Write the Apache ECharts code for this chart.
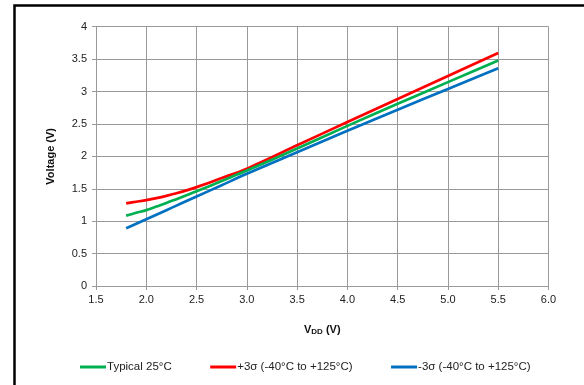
<!DOCTYPE html>
<html>
<head>
<meta charset="utf-8">
<script src="https://cdn.jsdelivr.net/npm/echarts@6/dist/echarts.min.js"></script>
<style>
html,body{margin:0;padding:0;background:#fff;}
#chart{width:584px;height:385px;}
</style>
</head>
<body>
<div id="chart"></div>
<script>
var vdd = [1.8, 1.9, 2.0, 2.1, 2.2, 2.3, 2.4, 2.5, 2.75, 3.0, 3.5, 4.0, 4.5, 5.0, 5.5];
var typical = [1.085, 1.13, 1.17, 1.225, 1.28, 1.34, 1.40, 1.46, 1.62, 1.78, 2.12, 2.47, 2.81, 3.145, 3.48];
var plus3s = [1.275, 1.30, 1.325, 1.355, 1.39, 1.43, 1.475, 1.525, 1.665, 1.81, 2.17, 2.53, 2.885, 3.24, 3.595];
var minus3s = [0.89, 0.96, 1.03, 1.10, 1.17, 1.24, 1.31, 1.38, 1.555, 1.73, 2.065, 2.395, 2.72, 3.04, 3.36];
var seriesNames = ['Typical 25°C', '+3σ (-40°C to +125°C)', '-3σ (-40°C to +125°C)'];
var seriesColors = ['#00b050', '#ff0000', '#0070c0'];

function pairs(ys) { return vdd.map(function (x, i) { return [x, ys[i]]; }); }

var chart = echarts.init(document.getElementById('chart'));
var font = 'Liberation Sans, Arial, sans-serif';
var gridColor = '#999999';
chart.setOption({
  animation: false,
  backgroundColor: '#fff',
  textStyle: { fontFamily: font },
  graphic: [{
    type: 'rect', left: 12, top: 3, silent: true,
    shape: { width: 700, height: 500 },
    style: { fill: 'none', stroke: '#000', lineWidth: 2.5 }
  }],
  grid: { left: 96, right: 35.5, top: 26.7, bottom: 99, containLabel: false },
  legend: {
    top: 356, left: 75,
    itemWidth: 26, itemHeight: 3, itemGap: 38.5,
    icon: 'rect',
    textStyle: { fontSize: 11.5, color: '#222', fontFamily: font, padding: [0, 0, 0, -4] },
    data: seriesNames
  },
  xAxis: {
    type: 'value', min: 1.5, max: 6.0, interval: 0.5,
    name: '{a|V}{b|DD}{a| (V)}',
    nameLocation: 'middle', nameGap: 38,
    nameTextStyle: { rich: {
      a: { fontSize: 11, fontWeight: 'bold', color: '#111', fontFamily: font },
      b: { fontSize: 8, fontWeight: 'bold', color: '#111', fontFamily: font, verticalAlign: 'bottom', padding: [0,0,-1,0] }
    } },
    axisLine: { show: true, lineStyle: { color: gridColor } },
    axisTick: { show: true, length: 4, lineStyle: { color: gridColor } },
    axisLabel: { fontSize: 11, color: '#222', margin: 8, formatter: function (v) { return v.toFixed(1); } },
    splitLine: { show: true, lineStyle: { color: gridColor, width: 1 } }
  },
  yAxis: {
    type: 'value', min: 0, max: 4, interval: 0.5,
    name: 'Voltage (V)', nameLocation: 'middle', nameGap: 40,
    nameTextStyle: { fontSize: 11, fontWeight: 'bold', color: '#111' },
    axisLine: { show: true, lineStyle: { color: gridColor } },
    axisTick: { show: true, length: 4, lineStyle: { color: gridColor } },
    axisLabel: { fontSize: 11, color: '#222', margin: 9 },
    splitLine: { show: true, lineStyle: { color: gridColor, width: 1 } }
  },
  series: [
    { name: seriesNames[0], type: 'line', data: pairs(typical), smooth: 0.3, showSymbol: false, z: 3,
      itemStyle: { color: seriesColors[0] }, lineStyle: { color: seriesColors[0], width: 2.7 } },
    { name: seriesNames[1], type: 'line', data: pairs(plus3s), smooth: 0.3, showSymbol: false, z: 2,
      itemStyle: { color: seriesColors[1] }, lineStyle: { color: seriesColors[1], width: 2.7 } },
    { name: seriesNames[2], type: 'line', data: pairs(minus3s), smooth: 0.3, showSymbol: false, z: 4,
      itemStyle: { color: seriesColors[2] }, lineStyle: { color: seriesColors[2], width: 2.7 } }
  ]
});
</script>
</body>
</html>
